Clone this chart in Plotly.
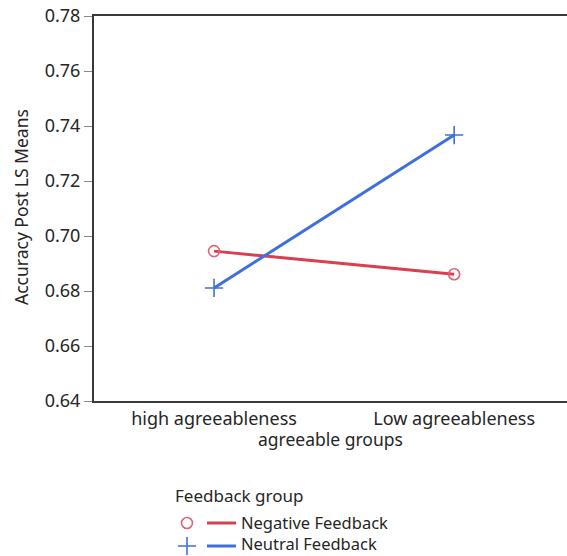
import plotly.graph_objects as go

# LS means of post-task accuracy by agreeableness group and feedback condition
groups = ["high agreeableness", "Low agreeableness"]
negative_feedback = [0.6945, 0.6861]
neutral_feedback = [0.6811, 0.7367]
y_ticks = [0.64, 0.66, 0.68, 0.70, 0.72, 0.74, 0.76, 0.78]
legend_title = "Feedback group"
legend_labels = ["Negative Feedback", "Neutral Feedback"]

W, H = 567, 556
RED = "#D8404F"
RED_MK = "#E06373"
BLUE = "#3F6FDC"
FONT = "Noto Sans, Open Sans, sans-serif"
TXT = "#262626"

# plot box in pixels
L, T, B = 94, 16, 401

fig = go.Figure()

fig.add_trace(go.Scatter(
    x=groups, y=negative_feedback, mode="lines",
    line=dict(color=RED, width=3), showlegend=False, hoverinfo="skip"))
fig.add_trace(go.Scatter(
    x=groups, y=neutral_feedback, mode="lines",
    line=dict(color=BLUE, width=3), showlegend=False, hoverinfo="skip"))
fig.add_trace(go.Scatter(
    x=groups, y=negative_feedback, mode="markers",
    marker=dict(symbol="circle-open", size=11, color=RED_MK, line=dict(width=1.6)),
    showlegend=False))
fig.add_trace(go.Scatter(
    x=groups, y=neutral_feedback, mode="markers",
    marker=dict(symbol="cross-thin-open", size=13, color=BLUE, line=dict(width=1.6, color=BLUE)),
    showlegend=False))

# legend drawn on an overlay axis in pixel units
leg_x_marker, leg_x0, leg_x1 = 187, 207, 236
leg_rows = [523, 546]
fig.add_trace(go.Scatter(
    x=[leg_x_marker], y=[leg_rows[0]], xaxis="x2", yaxis="y2", mode="markers",
    marker=dict(symbol="circle-open", size=11, color=RED_MK, line=dict(width=1.6)),
    showlegend=False, hoverinfo="skip"))
fig.add_trace(go.Scatter(
    x=[leg_x_marker], y=[leg_rows[1]], xaxis="x2", yaxis="y2", mode="markers",
    marker=dict(symbol="cross-thin-open", size=13, color=BLUE, line=dict(width=1.6, color=BLUE)),
    showlegend=False, hoverinfo="skip"))
for yy, col in zip(leg_rows, [RED, BLUE]):
    fig.add_trace(go.Scatter(
        x=[leg_x0, leg_x1], y=[yy, yy], xaxis="x2", yaxis="y2", mode="lines",
        line=dict(color=col, width=3), showlegend=False, hoverinfo="skip"))

annotations = [
    dict(text="Accuracy Post LS Means", x=21, y=207, xref="x2", yref="y2",
         textangle=-90, showarrow=False, font=dict(size=17.5, color=TXT, family=FONT)),
    dict(text="agreeable groups", x=330, y=439, xref="x2", yref="y2",
         showarrow=False, font=dict(size=17.5, color=TXT, family=FONT)),
    dict(text=legend_title, x=173, y=495, xref="x2", yref="y2", xanchor="left",
         showarrow=False, font=dict(size=17, color=TXT, family=FONT)),
    dict(text=legend_labels[0], x=240, y=522, xref="x2", yref="y2",
         xanchor="left", showarrow=False, borderpad=0,
         font=dict(size=16.5, color=TXT, family=FONT)),
    # last row sits at the bottom edge: anchor its box to the page bottom
    dict(text=legend_labels[1], x=240, y=H, xref="x2", yref="y2",
         xanchor="left", yanchor="bottom", showarrow=False, borderpad=0,
         font=dict(size=16.5, color=TXT, family=FONT)),
]

fig.update_layout(
    template="none",
    width=W, height=H,
    margin=dict(l=0, r=0, t=0, b=0, pad=0),
    paper_bgcolor="white", plot_bgcolor="rgba(0,0,0,0)",
    font=dict(family=FONT, color=TXT, size=17),
    xaxis=dict(
        domain=[L / W, 1], anchor="y", automargin=False,
        type="category", range=[-0.5, 1.47],
        showgrid=False, zeroline=False,
        showline=True, linecolor="#3a3a3a", linewidth=2, mirror=True,
        ticks="", tickfont=dict(size=18, color=TXT, family=FONT),
    ),
    yaxis=dict(
        domain=[(H - B) / H, (H - T) / H], anchor="x", automargin=False,
        range=[0.64, 0.78], tickvals=y_ticks, tickformat=".2f",
        showgrid=False, zeroline=False,
        showline=True, linecolor="#3a3a3a", linewidth=2,
        ticks="outside", ticklen=8, tickcolor="#8a8a8a", tickwidth=1.2,
        tickfont=dict(size=18, color=TXT, family=FONT),
    ),
    xaxis2=dict(domain=[0, 1], range=[0, W], visible=False, fixedrange=True,
                anchor="y2", automargin=False),
    yaxis2=dict(domain=[0, 1], range=[H, 0], visible=False, fixedrange=True,
                anchor="x2", automargin=False),
    annotations=annotations,
    showlegend=False,
)

fig.write_html("out.html")
